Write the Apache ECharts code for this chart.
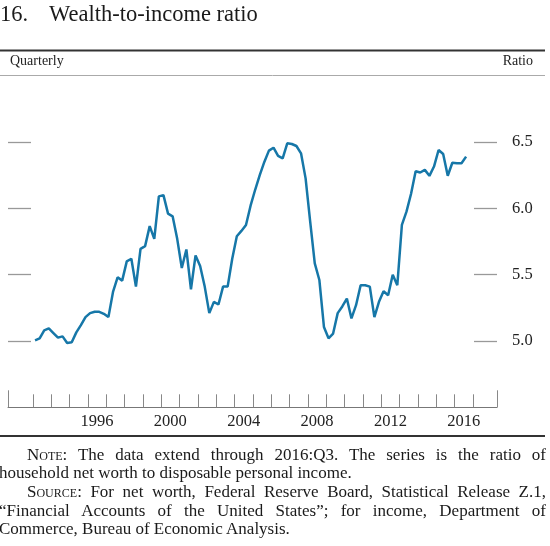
<!DOCTYPE html>
<html>
<head>
<meta charset="utf-8">
<script src="https://cdn.jsdelivr.net/npm/echarts@6/dist/echarts.min.js"></script>
<style>
	html, body { margin: 0; padding: 0; background: #fff; }
	#main { position: absolute; left: 0; top: 0; width: 550px; height: 546px; }
	#note {
		position: absolute; left: -1px; top: 445.5px; width: 547px;
		font-family: 'Liberation Serif', 'Times New Roman', serif;
		font-size: 17px; line-height: 18.7px; color: #1a1a1a;
	}
	#note div { white-space: nowrap; }
	#note .j { text-align: justify; text-align-last: justify; white-space: normal; }
	#note .ind { padding-left: 28px; }
	.sc { font-variant: small-caps; }
</style>
</head>
<body>
<div id="main"></div>
<div id="note">
	<div class="j ind"><span class="sc">Note</span>: The data extend through 2016:Q3. The series is the ratio of</div>
	<div>household net worth to disposable personal income.</div>
	<div class="j ind"><span class="sc">Source</span>: For net worth, Federal Reserve Board, Statistical Release Z.1,</div>
	<div class="j">“Financial Accounts of the United States”; for income, Department of</div>
	<div>Commerce, Bureau of Economic Analysis.</div>
</div>
<script>
	// quarterly, 1993:Q1 - 2016:Q3
	var startYear = 1993;
	var ratio = [
		5.005, 5.02, 5.08, 5.095, 5.06, 5.025, 5.035, 4.985, 4.99, 5.065,
		5.12, 5.18, 5.21, 5.22, 5.22, 5.205, 5.18, 5.37, 5.48, 5.455,
		5.60, 5.62, 5.41, 5.695, 5.715, 5.866, 5.77, 6.09, 6.10, 5.96,
		5.94, 5.77, 5.55, 5.69, 5.39, 5.645, 5.565, 5.41, 5.21, 5.295,
		5.275, 5.41, 5.41, 5.62, 5.79, 5.83, 5.875, 6.02, 6.14, 6.25,
		6.35, 6.435, 6.457, 6.395, 6.377, 6.49, 6.485, 6.47, 6.415, 6.226,
		5.90, 5.585, 5.46, 5.106, 5.02, 5.056, 5.21, 5.26, 5.32, 5.17,
		5.27, 5.42, 5.42, 5.41, 5.18, 5.295, 5.375, 5.345, 5.50, 5.42,
		5.875, 5.975, 6.11, 6.28, 6.27, 6.29, 6.245, 6.315, 6.44, 6.41,
		6.246, 6.344, 6.34, 6.34, 6.39
	];
	var yearTicks = [1993, 1994, 1995, 1996, 1997, 1998, 1999, 2000, 2001, 2002, 2003, 2004, 2005,
		2006, 2007, 2008, 2009, 2010, 2011, 2012, 2013, 2014, 2015, 2016, 2017];
	var yearLabels = [1996, 2000, 2004, 2008, 2012, 2016];
	var ratioTicks = [5.0, 5.5, 6.0, 6.5];

	var xMin = 1991.65, xMax = 2018.31;
	var serif = "'Liberation Serif', 'Times New Roman', serif";

	var seriesData = ratio.map(function(v, i) {
		return [startYear + (i + 0.5) / 4, v];
	});

	var option = {
		animation: false,
		backgroundColor: '#fff',
		grid: { left: 8, right: 53, top: 75.7, bottom: 138.7 },
		xAxis: [{
			type: 'value',
			min: xMin,
			max: xMax,
			position: 'bottom',
			axisLine: { show: true, onZero: false, lineStyle: { color: '#777', width: 1 } },
			axisTick: { show: true, inside: true, length: 13, customValues: yearTicks,
				lineStyle: { color: '#888', width: 1 } },
			axisLabel: {
				customValues: yearLabels.map(function(y) { return y + 0.5; }),
				formatter: function(v) { return String(Math.floor(v)); },
				color: '#222', fontFamily: serif, fontSize: 16.5, margin: 6
			},
			splitLine: { show: false }
		}, {
			// taller end ticks
			type: 'value',
			min: xMin,
			max: xMax,
			position: 'bottom',
			axisLine: { show: false, onZero: false },
			axisTick: { show: true, inside: true, length: 17, customValues: [xMin, xMax],
				lineStyle: { color: '#888', width: 1 } },
			axisLabel: { show: false },
			splitLine: { show: false }
		}],
		yAxis: [{
			type: 'value',
			position: 'left',
			min: 4.5,
			max: 7.0,
			interval: 0.5,
			axisLine: { show: false },
			axisTick: { show: true, inside: true, length: 23, customValues: ratioTicks,
				lineStyle: { color: '#999', width: 1.3 } },
			axisLabel: { show: false },
			splitLine: { show: false }
		}, {
			type: 'value',
			position: 'right',
			min: 4.5,
			max: 7.0,
			interval: 0.5,
			axisLine: { show: false },
			axisTick: { show: true, inside: true, length: 23, customValues: ratioTicks,
				lineStyle: { color: '#999', width: 1.3 } },
			axisLabel: {
				customValues: ratioTicks,
				formatter: function(v) { return v.toFixed(1); },
				color: '#222', fontFamily: serif, fontSize: 16.5, margin: 15
			},
			splitLine: { show: false }
		}],
		graphic: [
			{ type: 'text', left: 0, top: 3.5, style: { text: '16.', fontFamily: serif, fontSize: 22.5, fill: '#1a1a1a' } },
			{ type: 'text', left: 49, top: 3.5, style: { text: 'Wealth-to-income ratio', fontFamily: serif, fontSize: 22.5, fill: '#1a1a1a' } },
			{ type: 'line', shape: { x1: 0, y1: 50.5, x2: 545, y2: 50.5 }, style: { stroke: '#333', lineWidth: 2 } },
			{ type: 'text', left: 10, top: 54, style: { text: 'Quarterly', fontFamily: serif, fontSize: 14, fill: '#222' } },
			{ type: 'text', right: 17, top: 54, style: { text: 'Ratio', fontFamily: serif, fontSize: 14, fill: '#222' } },
			{ type: 'line', shape: { x1: 0, y1: 75.5, x2: 545, y2: 75.5 }, style: { stroke: '#aaa', lineWidth: 1 } },
			{ type: 'line', shape: { x1: 0, y1: 436, x2: 545, y2: 436 }, style: { stroke: '#333', lineWidth: 2 } }
		],
		series: [{
			name: 'Wealth-to-income ratio',
			type: 'line',
			xAxisIndex: 0,
			yAxisIndex: 0,
			data: seriesData,
			showSymbol: false,
			symbol: 'none',
			lineStyle: { color: '#1677a8', width: 2.5 }
		}]
	};

	var chart = echarts.init(document.getElementById('main'), null, { renderer: 'canvas' });
	chart.setOption(option);
</script>
</body>
</html>
